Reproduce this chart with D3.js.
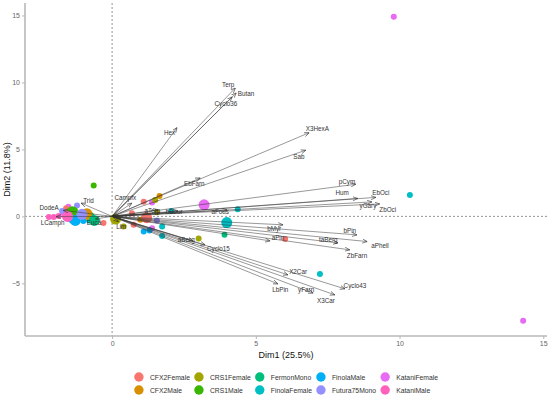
<!DOCTYPE html>
<html><head><meta charset="utf-8">
<script src="https://cdn.jsdelivr.net/npm/d3@7/dist/d3.min.js"></script>
<style>body{margin:0;background:#fff}svg{display:block}</style>
</head><body>
<svg id="chart" width="550" height="395"></svg>
<script>
// ---------- data ----------
const groups = ["CFX2Female","CFX2Male","CRS1Female","CRS1Male","FermonMono","FinolaFemale","FinolaMale","Futura75Mono","KataniFemale","KataniMale"];
const groupColors = ["#F8766D","#D89000","#A3A500","#39B600","#00BF7D","#00BFC4","#00B0F6","#9590FF","#E76BF3","#FF62BC"];
const xTicks = [0,5,10,15];
const yTicks = [-5,0,5,10,15];
const xTitle = "Dim1 (25.5%)";
const yTitle = "Dim2 (11.8%)";

// individuals
const indGroup = [
 "KataniMale","KataniMale","KataniMale","KataniMale","KataniMale",
 "KataniFemale","KataniFemale","KataniFemale","KataniFemale","KataniFemale","KataniFemale",
 "FinolaFemale","FinolaFemale","FinolaFemale","FinolaFemale","FinolaFemale","FinolaFemale","FinolaFemale",
 "FinolaMale","FinolaMale","FinolaMale","FinolaMale","FinolaMale","FinolaMale",
 "CFX2Female","CFX2Female","CFX2Female","CFX2Female","CFX2Female","CFX2Female",
 "CFX2Male","CFX2Male","CFX2Male","CFX2Male",
 "CRS1Female","CRS1Female","CRS1Female","CRS1Female",
 "CRS1Male","CRS1Male","CRS1Male","CRS1Male",
 "FermonMono","FermonMono","FermonMono",
 "Futura75Mono","Futura75Mono","Futura75Mono","Futura75Mono"];
const indX = [
 -2.20,-2.03,-1.86,-1.50,-1.60,
 9.80,14.30,-1.52,1.39,1.39,-1.70,
 10.36,7.23,4.37,2.06,1.74,1.74,-0.80,
 1.10,1.30,-1.30,-1.20,-1.40,-1.00,
 1.10,0.69,0.75,6.02,-0.30,-1.60,
 1.65,-0.90,-0.85,0.98,
 1.50,1.56,3.01,0.40,
 -0.64,-1.30,-0.75,-1.45,
 3.91,-0.65,-0.70,
 -1.22,-1.74,1.56,-1.60];
const indY = [
 -0.05,-0.05,0.02,-0.20,0.05,
 14.90,-7.80,0.71,1.03,-0.88,0.25,
 1.60,-4.31,0.54,0.41,-0.76,-1.46,-0.30,
 -1.13,-1.05,-0.30,-0.10,-0.30,-0.35,
 1.10,0.24,-0.63,-1.68,-0.49,0.60,
 1.53,0.20,-0.05,-0.26,
 1.23,0.31,-1.65,-0.75,
 2.30,0.45,0.10,0.20,
 -1.38,-0.35,0.00,
 0.81,0.40,-0.31,0.10];

// group means (larger points)
const meanGroup = ["KataniFemale","FinolaFemale","CRS1Female","CRS1Male","FinolaMale","CFX2Male","KataniMale","FermonMono","Futura75Mono","CFX2Female"];
const meanX = [3.20,3.99,0.12,-1.38,-1.28,-0.88,-1.55,-0.62,-1.05,1.20];
const meanY = [0.86,-0.46,-0.20,0.35,-0.30,0.20,0.00,-0.30,0.15,-0.10];

// variables (arrow tips) and label positions
const varNames = ["Terp","Butan","Cyclo36","Hex","X3HexA","Sab","EbFarn","Campfx","pCym","Hum","EbOci","yGary","ZbOci",
 "aTerp","bBour","aFous","bMyr","bPin","aPhell","aPin","taBerg","ZbFarn","aBerg","Cyclo15","X2Car","Cyclo43","yFarn","LbPin","X3Car",
 "Trid","DodeA","LCamph","Euca","Lim"];
const varX = [4.29,4.32,4.18,2.26,6.86,6.74,3.07,0.69,8.48,8.55,9.18,9.04,9.31,
 1.61,2.30,4.00,5.95,8.52,8.88,5.50,7.86,8.27,2.82,3.24,6.12,8.10,7.00,5.77,7.75,
 -1.08,-1.70,-1.95,-0.58,0.22];
const varY = [9.59,9.22,8.92,6.63,6.25,4.94,2.87,0.99,2.40,1.34,1.42,1.08,0.93,
 0.49,0.41,0.49,-0.63,-1.38,-1.88,-1.83,-1.98,-2.50,-1.83,-2.13,-4.37,-5.41,-5.73,-5.04,-5.86,
 0.99,0.45,-0.02,-0.19,-0.41];
const labX = [4.04,4.66,3.96,2.00,7.14,6.50,2.86,0.46,8.17,8.00,9.35,8.90,9.59,
 1.40,2.16,3.76,5.64,8.27,9.32,5.77,7.52,8.52,2.58,3.70,6.47,8.45,6.75,5.85,7.44,
 -0.82,-2.19,-2.07,-0.63,0.32];
const labY = [9.85,9.14,8.45,6.28,6.58,4.46,2.43,1.38,2.60,1.75,1.75,0.82,0.49,
 0.41,0.34,0.34,-0.93,-1.04,-2.20,-1.57,-1.72,-2.95,-1.72,-2.39,-4.10,-5.19,-5.49,-5.49,-6.31,
 1.19,0.67,-0.45,-0.49,-0.78];

// ---------- layout ----------
const svg = d3.select("#chart");
const P = {left:25, right:547, top:3, bottom:336};
const x = d3.scaleLinear().domain([-3.03,15.13]).range([P.left,P.right]);
const y = d3.scaleLinear().domain([-8.93,15.93]).range([P.bottom,P.top]);
const color = d3.scaleOrdinal().domain(groups).range(groupColors);
const FONT = "Arial, 'Liberation Sans', sans-serif";

// reference dashed lines
svg.append("line").attr("x1",x(0)).attr("x2",x(0)).attr("y1",P.top).attr("y2",P.bottom)
  .attr("stroke","#666").attr("stroke-width",0.7).attr("stroke-dasharray","2,2");
svg.append("line").attr("x1",P.left).attr("x2",P.right).attr("y1",y(0)).attr("y2",y(0))
  .attr("stroke","#666").attr("stroke-width",0.7).attr("stroke-dasharray","2,2");

// axes
const gx = svg.append("g").attr("transform",`translate(0,${P.bottom})`)
  .call(d3.axisBottom(x).tickValues(xTicks).tickSize(3).tickPadding(2).tickSizeOuter(0));
const gy = svg.append("g").attr("transform",`translate(${P.left},0)`)
  .call(d3.axisLeft(y).tickValues(yTicks).tickSize(3).tickPadding(2).tickSizeOuter(0));
[gx,gy].forEach(g=>{
  g.select(".domain").attr("stroke","#b8b8b8").attr("stroke-width",1.6);
  g.selectAll(".tick line").attr("stroke","#b8b8b8").attr("stroke-width",1);
  g.selectAll(".tick text").attr("fill","#666").style("font-family",FONT).style("font-size","7px");
});
gx.select(".domain").attr("d",`M${P.left},0H${P.right}`);
gy.select(".domain").attr("d",`M0,${P.top}V${P.bottom}`);

// axis titles
svg.append("text").attr("x",(P.left+P.right)/2).attr("y",358).attr("text-anchor","middle")
  .style("font-family",FONT).style("font-size","9px").attr("fill","#111").text(xTitle);
svg.append("text").attr("transform",`translate(10,${(P.top+P.bottom)/2}) rotate(-90)`)
  .attr("text-anchor","middle").style("font-family",FONT).style("font-size","9px").attr("fill","#111").text(yTitle);

// individuals
svg.append("g").selectAll("circle").data(indGroup).join("circle")
  .attr("cx",(d,i)=>x(indX[i])).attr("cy",(d,i)=>y(indY[i])).attr("r",3)
  .attr("fill",d=>color(d));
// means
svg.append("g").selectAll("circle").data(meanGroup).join("circle")
  .attr("cx",(d,i)=>x(meanX[i])).attr("cy",(d,i)=>y(meanY[i])).attr("r",5.5)
  .attr("fill",d=>color(d));

// arrows
const defs = svg.append("defs");
defs.append("marker").attr("id","ah").attr("viewBox","0 0 10 10").attr("refX",10).attr("refY",5)
  .attr("markerWidth",5).attr("markerHeight",5).attr("markerUnits","userSpaceOnUse").attr("orient","auto")
  .append("path").attr("d","M0,1L10,5L0,9").attr("fill","none").attr("stroke","#333").attr("stroke-width",1.2);
svg.append("g").selectAll("line").data(varNames).join("line")
  .attr("x1",x(0)).attr("y1",y(0))
  .attr("x2",(d,i)=>x(varX[i])).attr("y2",(d,i)=>y(varY[i]))
  .attr("stroke","#333").attr("stroke-width",0.5).attr("marker-end","url(#ah)");
svg.append("g").selectAll("text").data(varNames).join("text")
  .attr("x",(d,i)=>x(labX[i])).attr("y",(d,i)=>y(labY[i]))
  .attr("text-anchor","middle").attr("dominant-baseline","central")
  .style("font-family",FONT).style("font-size","6.3px").attr("fill","#333").text(d=>d);

// legend
const leg = svg.append("g");
const tmp = leg.append("text").style("font-family",FONT).style("font-size","6.8px");
const colW = [];
for(let c=0;c<5;c++){
  let w=0;
  [groups[2*c],groups[2*c+1]].forEach(t=>{tmp.text(t); w=Math.max(w,tmp.node().getComputedTextLength());});
  colW.push(11+w+9);
}
tmp.remove();
const totalW = d3.sum(colW)-9+5;
let cx0 = (P.left+P.right)/2 - totalW/2 + 5;
const colX=[]; colW.forEach(w=>{colX.push(cx0); cx0+=w;});
const rowY=[377,390];
groups.forEach((g,i)=>{
  const c=Math.floor(i/2), r=i%2;
  leg.append("circle").attr("cx",colX[c]).attr("cy",rowY[r]).attr("r",4.7).attr("fill",color(g));
  leg.append("text").attr("x",colX[c]+11).attr("y",rowY[r]).attr("dominant-baseline","central")
    .style("font-family",FONT).style("font-size","6.8px").attr("fill","#333").text(g);
});
</script>
</body></html>
